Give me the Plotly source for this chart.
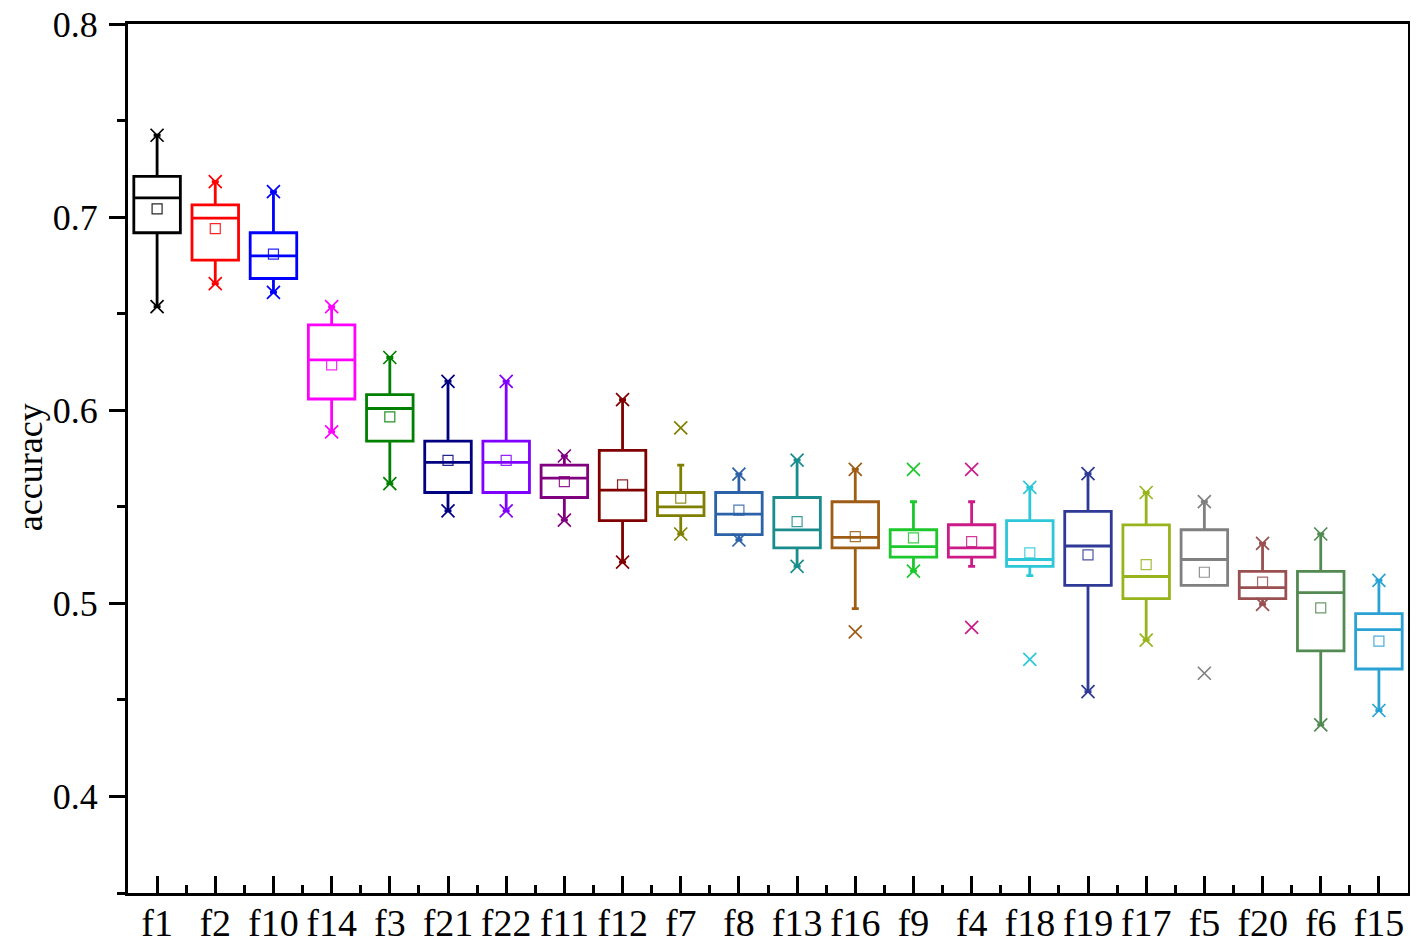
import plotly.graph_objects as go

categories = ["f1", "f2", "f10", "f14", "f3", "f21", "f22", "f11", "f12", "f7", "f8",
              "f13", "f16", "f9", "f4", "f18", "f19", "f17", "f5", "f20", "f6", "f15"]

colors = ["#000000", "#FF0000", "#0000FF", "#FF00FF", "#008000", "#000080", "#8000FF",
          "#800080", "#800000", "#808000", "#2B62A8", "#1B8C8C", "#9E5C14", "#1DC82D",
          "#CC1A88", "#2CC8D8", "#2E3A96", "#98B41C", "#808080", "#9A5050", "#528A52",
          "#2AA2D4"]

q3 =     [0.7211, 0.7063, 0.6919, 0.6442, 0.6081, 0.5840, 0.5840, 0.5716, 0.5792, 0.5574, 0.5574,
          0.5548, 0.5526, 0.5381, 0.5407, 0.5428, 0.5476, 0.5406, 0.5381, 0.5165, 0.5165, 0.4947]
median = [0.7100, 0.6995, 0.6799, 0.6261, 0.6009, 0.5730, 0.5730, 0.5648, 0.5586, 0.5500, 0.5462,
          0.5380, 0.5342, 0.5294, 0.5287, 0.5227, 0.5297, 0.5139, 0.5227, 0.5081, 0.5055, 0.4864]
q1 =     [0.6919, 0.6777, 0.6682, 0.6058, 0.5840, 0.5574, 0.5574, 0.5548, 0.5428, 0.5454, 0.5356,
          0.5287, 0.5287, 0.5239, 0.5239, 0.5191, 0.5093, 0.5024, 0.5093, 0.5024, 0.4754, 0.4660]
mean =   [0.7043, 0.6940, 0.6808, 0.6235, 0.5966, 0.5740, 0.5740, 0.5630, 0.5613, 0.5545, 0.5483,
          0.5423, 0.5345, 0.5339, 0.5320, 0.5261, 0.5251, 0.5200, 0.5161, 0.5110, 0.4976, 0.4804]
upper_whisker = [0.7424, 0.7184, 0.7132, 0.6536, 0.6273, 0.6149, 0.6149, 0.5763, 0.6055, 0.5716, 0.5669,
                 0.5742, 0.5694, 0.5526, 0.5526, 0.5600, 0.5672, 0.5574, 0.5527, 0.5311, 0.5359, 0.5119]
lower_whisker = [0.6536, 0.6656, 0.6610, 0.5888, 0.5620, 0.5479, 0.5479, 0.5431, 0.5213, 0.5359, 0.5328,
                 0.5191, 0.4973, 0.5167, 0.5191, 0.5144, 0.4543, 0.4809, 0.5093, 0.4995, 0.4371, 0.4445]
data_max = [0.7424, 0.7184, 0.7132, 0.6536, 0.6273, 0.6149, 0.6149, 0.5763, 0.6055, 0.5909, 0.5669,
            0.5742, 0.5694, 0.5694, 0.5694, 0.5600, 0.5672, 0.5574, 0.5527, 0.5311, 0.5359, 0.5119]
data_min = [0.6536, 0.6656, 0.6610, 0.5888, 0.5620, 0.5479, 0.5479, 0.5431, 0.5213, 0.5359, 0.5328,
            0.5191, 0.4852, 0.5167, 0.4875, 0.4710, 0.4543, 0.4809, 0.4638, 0.4995, 0.4371, 0.4445]

y_ticks = [0.4, 0.5, 0.6, 0.7, 0.8]

FONT = "Liberation Serif"
fig = go.Figure()

for i, name in enumerate(categories):
    c = colors[i]
    fig.add_trace(go.Box(
        x=[i], q1=[q1[i]], median=[median[i]], q3=[q3[i]],
        lowerfence=[lower_whisker[i]], upperfence=[upper_whisker[i]],
        name=name, width=0.8, whiskerwidth=0.15, boxpoints=False,
        line=dict(color=c, width=2.8), fillcolor="rgba(0,0,0,0)",
        showlegend=False, hoverinfo="skip"))
    fig.add_trace(go.Scatter(
        x=[i, i], y=[data_min[i], data_max[i]], mode="markers",
        marker=dict(symbol="x-thin-open", size=13, color=c,
                    line=dict(color=c, width=1.7)),
        showlegend=False, hoverinfo="skip"))
    fig.add_trace(go.Scatter(
        x=[i], y=[mean[i]], mode="markers",
        marker=dict(symbol="square-open", size=10, color=c,
                    line=dict(color=c, width=1.2)),
        opacity=0.85, showlegend=False, hoverinfo="skip"))

# the page body adds an 8px margin all round, so the figure is 16px smaller
L, R, T, B, W, H = 120, 2, 16, 50, 1402, 935
fig.update_layout(
    width=W, height=H,
    margin=dict(l=L, r=R, t=T, b=B),
    paper_bgcolor="white", plot_bgcolor="white",
    boxmode="overlay",
    font=dict(family=FONT, color="black"),
    xaxis=dict(
        range=[-0.5, len(categories) - 0.5],
        tickmode="array", tickvals=list(range(len(categories))), ticktext=categories,
        ticks="inside", ticklen=17, tickwidth=2.5, tickcolor="black",
        minor=dict(dtick=0.5, tick0=-0.5, ticks="inside", ticklen=8, tickwidth=2.5, tickcolor="black"),
        showline=True, linewidth=3, linecolor="black", mirror=True,
        showgrid=False, zeroline=False, automargin=False,
        tickfont=dict(family=FONT, size=38),
        ticklabelstandoff=-6, ticklabeloverflow="allow",
    ),
    yaxis=dict(
        range=[0.35, 0.8],
        tickmode="array", tickvals=y_ticks, ticktext=[f"{v:.1f}" for v in y_ticks],
        ticks="outside", ticklen=16, tickwidth=2.5, tickcolor="black",
        minor=dict(dtick=0.05, tick0=0.35, ticks="outside", ticklen=8, tickwidth=2.5, tickcolor="black"),
        showline=True, linewidth=3, linecolor="black", mirror=True,
        showgrid=False, zeroline=False, automargin=False,
        tickfont=dict(family=FONT, size=36),
        ticklabelstandoff=4, ticklabeloverflow="allow",
    ),
    annotations=[dict(
        text="accuracy", textangle=-90, showarrow=False,
        xref="paper", yref="paper", x=(22 - L) / (W - L - R), y=0.49,
        xanchor="center", yanchor="middle",
        font=dict(family=FONT, size=36, color="black"),
    )],
)

fig.write_html("out.html")
